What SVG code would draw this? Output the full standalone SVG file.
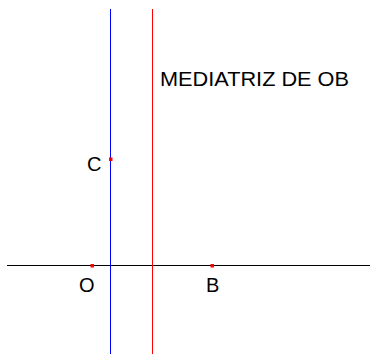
<svg xmlns="http://www.w3.org/2000/svg" width="370" height="354" viewBox="0 0 370 354">
<style>
.lbl{font-family:"Liberation Sans",Arial,sans-serif;font-size:20px;fill:#000}
.pt{fill:#ff0000}
</style>
<rect width="370" height="354" fill="#fff"/>
<g id="connectors">
<line x1="7" y1="265.5" x2="370" y2="265.5" stroke="#000" stroke-width="1"/>
<line x1="110.5" y1="9" x2="110.5" y2="354" stroke="#0000ff" stroke-width="1"/>
<line x1="152.5" y1="9" x2="152.5" y2="354" stroke="#ff0000" stroke-width="1"/>
</g>
<g id="label-mediatriz"><text class="lbl" x="160" y="86" textLength="189" lengthAdjust="spacingAndGlyphs">MEDIATRIZ DE OB</text></g>
<g id="C"><rect class="pt" x="109" y="157.5" width="3.5" height="3.5"/><text class="lbl" x="87" y="171">C</text></g>
<g id="O"><rect class="pt" x="90.5" y="264" width="3.5" height="3.5"/><text class="lbl" x="79" y="292">O</text></g>
<g id="B"><rect class="pt" x="210.5" y="264" width="3.5" height="3.5"/><text class="lbl" x="206" y="292">B</text></g>
</svg>
